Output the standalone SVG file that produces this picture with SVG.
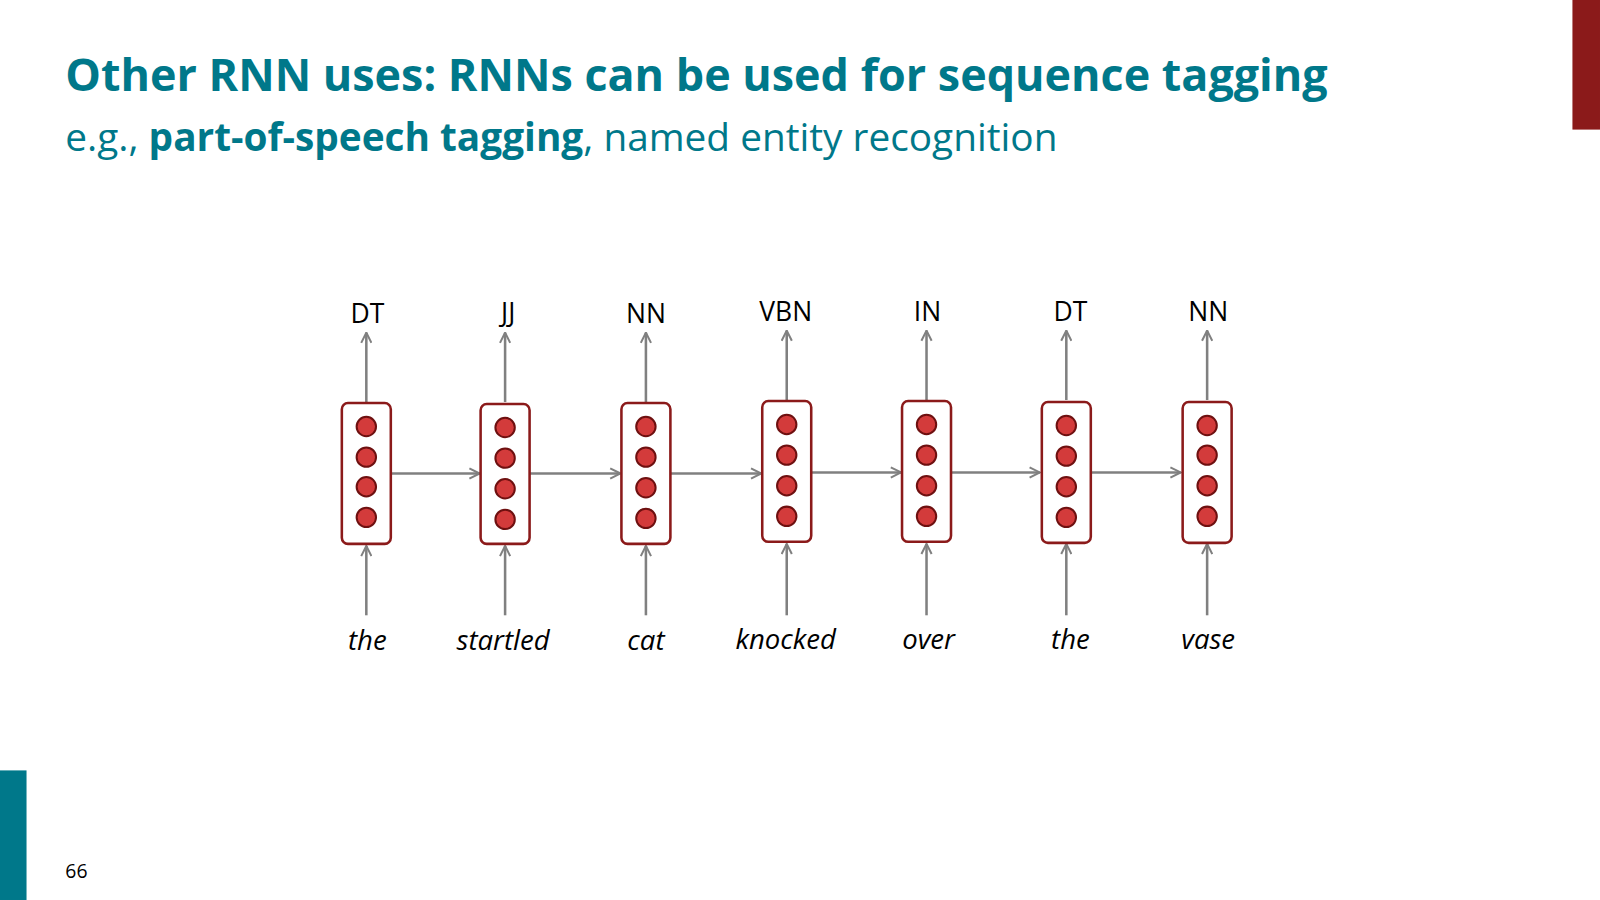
<svg xmlns="http://www.w3.org/2000/svg" width="1600" height="900" viewBox="0 0 1600 900">
<style>
.t{font-family:"Open Sans","Liberation Sans",sans-serif;}
.tag{font-family:"Open Sans","Liberation Sans",sans-serif;font-size:26px;text-anchor:middle;fill:#000;}
.w{font-family:"Open Sans","Liberation Sans",sans-serif;font-size:27px;font-style:italic;text-anchor:middle;fill:#000;}
.box{fill:#fff;stroke:#8B1A1A;stroke-width:2.5;}
.c{fill:#D33B3B;stroke:#6E1010;stroke-width:2;}
.a{stroke:#808080;stroke-width:2.5;fill:none;marker-end:url(#ah);}
</style>
<defs>
<marker id="ah" viewBox="0 0 12 12" refX="11" refY="6" markerWidth="12" markerHeight="12" markerUnits="userSpaceOnUse" orient="auto">
<path d="M1,1 L11,6 L1,11" fill="none" stroke="#808080" stroke-width="2"/>
</marker>
</defs>
<rect width="1600" height="900" fill="#fff"/>
<g transform="scale(1.0204)">
<rect x="1541" y="0" width="27" height="127" fill="#8B1A1A"/>
<rect x="0" y="755" width="26" height="127" fill="#00788A"/>
<text class="t" x="64" y="89" font-size="44" font-weight="bold" fill="#00788A">Other RNN uses: RNNs can be used for sequence tagging</text>
<text class="t" x="64" y="148" font-size="38" fill="#00788A">e.g., <tspan font-weight="bold">part-of-speech tagging</tspan>, named entity recognition</text>
<text class="t" x="64" y="860" font-size="19" fill="#000">66</text>
<g id="connectors">
<path class="a" d="M383,464 H470"/><path class="a" d="M519,464 H608"/><path class="a" d="M657,464 H746"/>
<path class="a" d="M795,463 H883"/><path class="a" d="M932,463 H1019"/><path class="a" d="M1069,463 H1157"/>
<path class="a" d="M359,603 V535"/><path class="a" d="M495,603 V535"/><path class="a" d="M633,603 V535"/><path class="a" d="M771,603 V533"/><path class="a" d="M908,603 V533"/><path class="a" d="M1045,603 V533"/><path class="a" d="M1183,603 V533"/>
<path class="a" d="M359,394 V326"/><path class="a" d="M495,394 V326"/><path class="a" d="M633,394 V326"/><path class="a" d="M771,392 V324"/><path class="a" d="M908,392 V324"/><path class="a" d="M1045,392 V324"/><path class="a" d="M1183,392 V324"/>
</g>
<g id="n1"><rect class="box" x="335" y="395" width="48" height="138" rx="6"/><circle class="c" cx="359" cy="418" r="9.5"/><circle class="c" cx="359" cy="448" r="9.5"/><circle class="c" cx="359" cy="477" r="9.5"/><circle class="c" cx="359" cy="507" r="9.5"/><text class="tag" x="360" y="317">DT</text><text class="w" x="360" y="637">the</text></g>
<g id="n2"><rect class="box" x="471" y="396" width="48" height="137" rx="6"/><circle class="c" cx="495" cy="419" r="9.5"/><circle class="c" cx="495" cy="449" r="9.5"/><circle class="c" cx="495" cy="479" r="9.5"/><circle class="c" cx="495" cy="509" r="9.5"/><text class="tag" x="498" y="316">JJ</text><text class="w" x="493" y="637">startled</text></g>
<g id="n3"><rect class="box" x="609" y="395" width="48" height="138" rx="6"/><circle class="c" cx="633" cy="418" r="9.5"/><circle class="c" cx="633" cy="448" r="9.5"/><circle class="c" cx="633" cy="478" r="9.5"/><circle class="c" cx="633" cy="508" r="9.5"/><text class="tag" x="633" y="317">NN</text><text class="w" x="633" y="637">cat</text></g>
<g id="n4"><rect class="box" x="747" y="393" width="48" height="138" rx="6"/><circle class="c" cx="771" cy="416" r="9.5"/><circle class="c" cx="771" cy="446" r="9.5"/><circle class="c" cx="771" cy="476" r="9.5"/><circle class="c" cx="771" cy="506" r="9.5"/><text class="tag" x="770" y="315">VBN</text><text class="w" x="770" y="636">knocked</text></g>
<g id="n5"><rect class="box" x="884" y="393" width="48" height="138" rx="6"/><circle class="c" cx="908" cy="416" r="9.5"/><circle class="c" cx="908" cy="446" r="9.5"/><circle class="c" cx="908" cy="476" r="9.5"/><circle class="c" cx="908" cy="506" r="9.5"/><text class="tag" x="909" y="315">IN</text><text class="w" x="910" y="636">over</text></g>
<g id="n6"><rect class="box" x="1021" y="394" width="48" height="138" rx="6"/><circle class="c" cx="1045" cy="417" r="9.5"/><circle class="c" cx="1045" cy="447" r="9.5"/><circle class="c" cx="1045" cy="477" r="9.5"/><circle class="c" cx="1045" cy="507" r="9.5"/><text class="tag" x="1049" y="315">DT</text><text class="w" x="1049" y="636">the</text></g>
<g id="n7"><rect class="box" x="1159" y="394" width="48" height="138" rx="6"/><circle class="c" cx="1183" cy="417" r="9.5"/><circle class="c" cx="1183" cy="446" r="9.5"/><circle class="c" cx="1183" cy="476" r="9.5"/><circle class="c" cx="1183" cy="506" r="9.5"/><text class="tag" x="1184" y="315">NN</text><text class="w" x="1184" y="636">vase</text></g>
</g>
</svg>
